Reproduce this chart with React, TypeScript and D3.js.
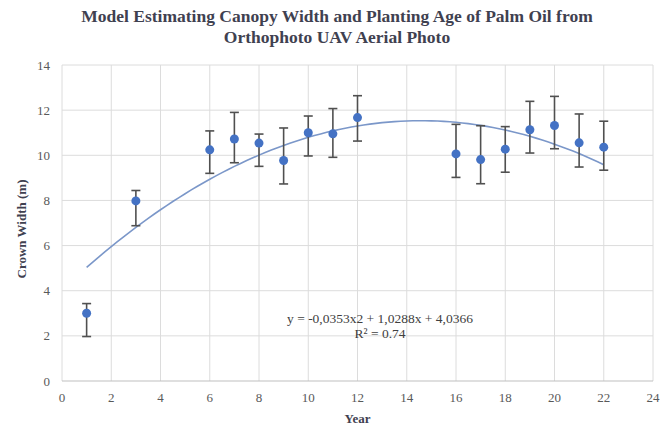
import React, { useEffect, useRef } from 'react';
import * as d3 from 'd3';

// data
const years = [1, 3, 6, 7, 8, 9, 10, 11, 12, 16, 17, 18, 19, 20, 21, 22];
const crownWidth = [3.0, 7.98, 10.24, 10.72, 10.54, 9.77, 11.0, 10.95, 11.67, 10.06, 9.81, 10.27, 11.13, 11.32, 10.55, 10.36];
const errLow = [1.97, 6.88, 9.2, 9.67, 9.51, 8.73, 9.97, 9.91, 10.63, 9.02, 8.74, 9.25, 10.1, 10.29, 9.48, 9.34];
const errHigh = [3.43, 8.44, 11.08, 11.9, 10.94, 11.21, 11.74, 12.07, 12.64, 11.37, 11.31, 11.27, 12.39, 12.61, 11.83, 11.51];
// trendline coefficients shown on the chart (a, b, c)
const trendCoef = [-0.0353, 1.0288, 4.0366];
const xTicks = [0, 2, 4, 6, 8, 10, 12, 14, 16, 18, 20, 22, 24];
const yTicks = [0, 2, 4, 6, 8, 10, 12, 14];

const W = 660, H = 428;
const FONT = '"Liberation Serif", "Times New Roman", serif';

function App() {
  const ref = useRef<SVGSVGElement>(null);

  useEffect(() => {
    const svg = d3.select(ref.current);
    svg.selectAll('*').remove();

    const margin = { top: 65, right: 7, bottom: 47, left: 62 };
    const x = d3.scaleLinear().domain([0, 24]).range([margin.left, W - margin.right]);
    const y = d3.scaleLinear().domain([0, 14]).range([H - margin.bottom, margin.top]);

    // gridlines
    svg.append('g')
      .selectAll('line')
      .data(yTicks.slice(1))
      .join('line')
      .attr('x1', x(0)).attr('x2', x(24))
      .attr('y1', d => y(d)).attr('y2', d => y(d))
      .attr('stroke', '#dcdcdc').attr('stroke-width', 1);
    svg.append('g')
      .selectAll('line')
      .data(xTicks)
      .join('line')
      .attr('y1', y(0)).attr('y2', y(14))
      .attr('x1', d => x(d)).attr('x2', d => x(d))
      .attr('stroke', '#dcdcdc').attr('stroke-width', 1);

    // bottom axis line
    svg.append('line')
      .attr('x1', x(0)).attr('x2', x(24))
      .attr('y1', y(0)).attr('y2', y(0))
      .attr('stroke', '#bfbfbf').attr('stroke-width', 1);

    // tick labels
    svg.append('g')
      .selectAll('text')
      .data(yTicks)
      .join('text')
      .attr('x', x(0) - 12)
      .attr('y', d => y(d) + 4.5)
      .attr('text-anchor', 'end')
      .attr('fill', '#595959')
      .style('font-family', FONT)
      .style('font-size', '13px')
      .text(d => d);
    svg.append('g')
      .selectAll('text')
      .data(xTicks)
      .join('text')
      .attr('x', d => x(d))
      .attr('y', y(0) + 21)
      .attr('text-anchor', 'middle')
      .attr('fill', '#595959')
      .style('font-family', FONT)
      .style('font-size', '13px')
      .text(d => d);

    // trendline
    const [a, b, c] = trendCoef;
    const xs = d3.range(years[0], years[years.length - 1] + 0.001, 0.25);
    const line = d3.line<number>()
      .x(d => x(d))
      .y(d => y(a * d * d + b * d + c))
      .curve(d3.curveMonotoneX);
    svg.append('path')
      .datum(xs)
      .attr('d', line)
      .attr('fill', 'none')
      .attr('stroke', '#7b97c9')
      .attr('stroke-width', 1.6);

    // error bars
    const eb = svg.append('g').attr('stroke', '#505050').attr('stroke-width', 1.6);
    years.forEach((yr, i) => {
      eb.append('line')
        .attr('x1', x(yr)).attr('x2', x(yr))
        .attr('y1', y(errLow[i])).attr('y2', y(errHigh[i]));
      [errLow[i], errHigh[i]].forEach(v => {
        eb.append('line')
          .attr('x1', x(yr) - 4.5).attr('x2', x(yr) + 4.5)
          .attr('y1', y(v)).attr('y2', y(v));
      });
    });

    // points
    svg.append('g')
      .selectAll('circle')
      .data(years)
      .join('circle')
      .attr('cx', d => x(d))
      .attr('cy', (d, i) => y(crownWidth[i]))
      .attr('r', 4.5)
      .attr('fill', '#4472c4');

    // equation
    svg.append('text')
      .attr('x', 380).attr('y', 323)
      .attr('text-anchor', 'middle')
      .attr('fill', '#404040')
      .style('font-family', FONT)
      .style('font-size', '13.5px')
      .text('y = -0,0353x2 + 1,0288x + 4,0366');
    svg.append('text')
      .attr('x', 380).attr('y', 338)
      .attr('text-anchor', 'middle')
      .attr('fill', '#404040')
      .style('font-family', FONT)
      .style('font-size', '13.5px')
      .text('R² = 0.74');

    // title
    const title = svg.append('text')
      .attr('text-anchor', 'middle')
      .attr('fill', '#3f4150')
      .style('font-family', FONT)
      .style('font-size', '17.5px')
      .style('font-weight', 'bold');
    title.append('tspan').attr('x', 337).attr('y', 22)
      .text('Model Estimating Canopy Width and Planting Age of Palm Oil from');
    title.append('tspan').attr('x', 337).attr('y', 43)
      .text('Orthophoto UAV Aerial Photo');

    // axis titles
    svg.append('text')
      .attr('x', x(12)).attr('y', 423)
      .attr('text-anchor', 'middle')
      .attr('fill', '#3f4150')
      .style('font-family', FONT)
      .style('font-size', '13px')
      .style('font-weight', 'bold')
      .text('Year');
    svg.append('text')
      .attr('transform', `translate(26,229) rotate(-90)`)
      .attr('text-anchor', 'middle')
      .attr('fill', '#3f4150')
      .style('font-family', FONT)
      .style('font-size', '13px')
      .style('font-weight', 'bold')
      .text('Crown Width (m)');
  }, []);

  return (
    <svg ref={ref} width={W} height={H}
      style={{ position: 'absolute', left: 0, top: 0, background: '#fff' }} />
  );
}

export default App;
